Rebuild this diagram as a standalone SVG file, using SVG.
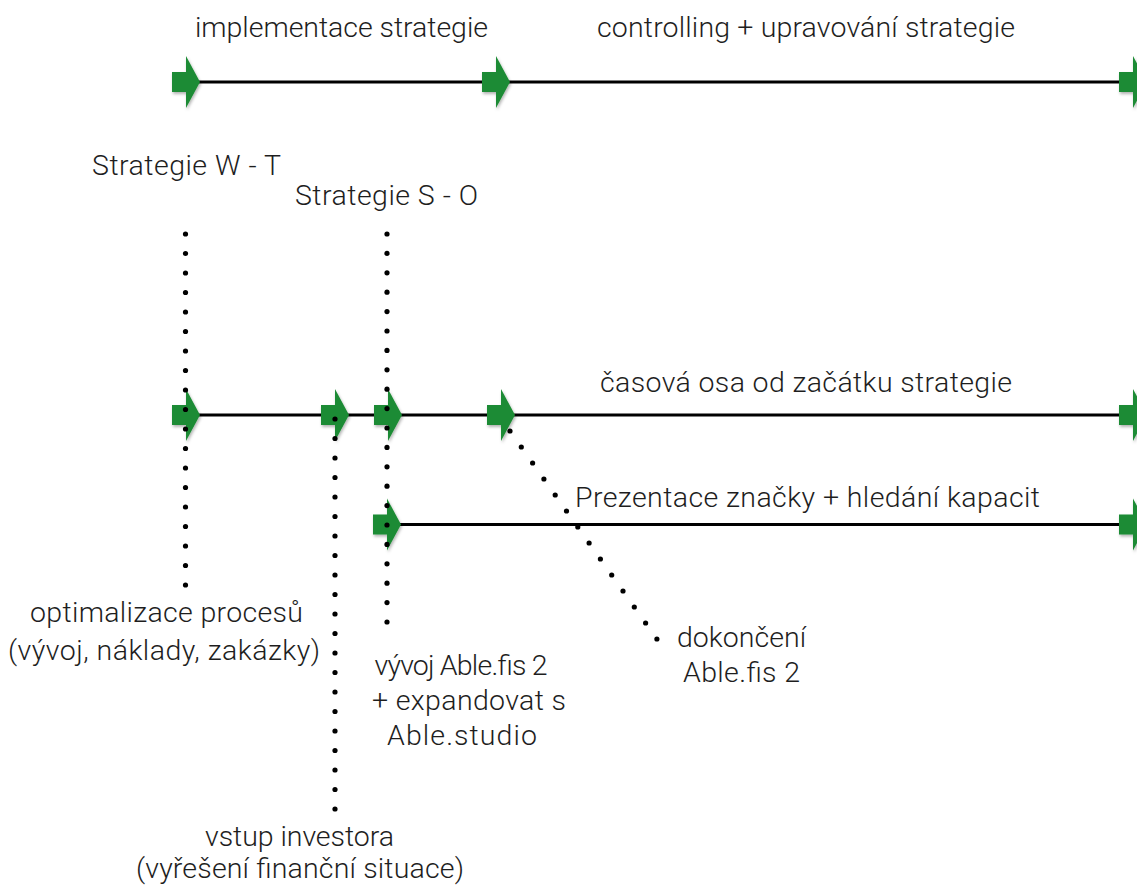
<svg xmlns="http://www.w3.org/2000/svg" width="1137" height="886" viewBox="0 0 1137 886">
<style>
.t{font-family:Roboto,"Liberation Sans",Arial,sans-serif;font-weight:300;font-size:28.5px;fill:#1e1e1e}
.m{text-anchor:middle}
.ln{stroke:#000;stroke-width:3;fill:none}
.ar{fill:#1d8b34;filter:url(#sh)}
.d{fill:#000}
</style>
<defs>
<filter id="sh" x="-30%" y="-30%" width="160%" height="160%">
<feDropShadow dx="1" dy="2" stdDeviation="1.5" flood-color="#000" flood-opacity="0.3"/>
</filter>
<path id="arr" d="M0,-10 H14 V-26 L28,0 L14,26 V10 H0 Z"/>
<circle id="dot" r="2.6"/>
</defs>
<rect width="1137" height="886" fill="#fff"/>
<g id="connectors">
<line class="ln" x1="185" y1="82" x2="1130" y2="82"/>
<line class="ln" x1="185" y1="415" x2="1130" y2="415"/>
<line class="ln" x1="386" y1="524.5" x2="1130" y2="524.5"/>
</g>
<g id="arrows">
<use href="#arr" class="ar" x="172" y="82"/>
<use href="#arr" class="ar" x="482" y="82"/>
<use href="#arr" class="ar" x="1119" y="82"/>
<use href="#arr" class="ar" x="172" y="415"/>
<use href="#arr" class="ar" x="321" y="415"/>
<use href="#arr" class="ar" x="374" y="415"/>
<use href="#arr" class="ar" x="487" y="415"/>
<use href="#arr" class="ar" x="1119" y="415"/>
<use href="#arr" class="ar" x="373" y="524.5"/>
<use href="#arr" class="ar" x="1119" y="524.5"/>
</g>
<g id="dotted-connectors" class="d">
<g id="dots-wt">
<use href="#dot" x="185.5" y="234"/><use href="#dot" x="185.5" y="253.5"/><use href="#dot" x="185.5" y="273"/><use href="#dot" x="185.5" y="292.5"/><use href="#dot" x="185.5" y="312"/><use href="#dot" x="185.5" y="331.5"/><use href="#dot" x="185.5" y="351"/><use href="#dot" x="185.5" y="370.5"/><use href="#dot" x="185.5" y="390"/><use href="#dot" x="185.5" y="409.5"/><use href="#dot" x="185.5" y="429"/><use href="#dot" x="185.5" y="448.5"/><use href="#dot" x="185.5" y="468"/><use href="#dot" x="185.5" y="487.5"/><use href="#dot" x="185.5" y="507"/><use href="#dot" x="185.5" y="526.5"/><use href="#dot" x="185.5" y="546"/><use href="#dot" x="185.5" y="565.5"/><use href="#dot" x="185.5" y="585"/>
</g>
<g id="dots-so">
<use href="#dot" x="387" y="234"/><use href="#dot" x="387" y="253.4"/><use href="#dot" x="387" y="272.8"/><use href="#dot" x="387" y="292.2"/><use href="#dot" x="387" y="311.6"/><use href="#dot" x="387" y="331"/><use href="#dot" x="387" y="350.4"/><use href="#dot" x="387" y="369.8"/><use href="#dot" x="387" y="389.2"/><use href="#dot" x="387" y="408.6"/><use href="#dot" x="387" y="428"/><use href="#dot" x="387" y="447.4"/><use href="#dot" x="387" y="466.8"/><use href="#dot" x="387" y="486.2"/><use href="#dot" x="387" y="505.6"/><use href="#dot" x="387" y="525"/><use href="#dot" x="387" y="544.4"/><use href="#dot" x="387" y="563.8"/><use href="#dot" x="387" y="583.2"/><use href="#dot" x="387" y="602.6"/><use href="#dot" x="387" y="622"/>
</g>
<g id="dots-inv">
<use href="#dot" x="335" y="419"/><use href="#dot" x="335" y="438.5"/><use href="#dot" x="335" y="458"/><use href="#dot" x="335" y="477.5"/><use href="#dot" x="335" y="497"/><use href="#dot" x="335" y="516.5"/><use href="#dot" x="335" y="536"/><use href="#dot" x="335" y="555.5"/><use href="#dot" x="335" y="575"/><use href="#dot" x="335" y="594.5"/><use href="#dot" x="335" y="614"/><use href="#dot" x="335" y="633.5"/><use href="#dot" x="335" y="653"/><use href="#dot" x="335" y="672.5"/><use href="#dot" x="335" y="692"/><use href="#dot" x="335" y="711.5"/><use href="#dot" x="335" y="731"/><use href="#dot" x="335" y="750.5"/><use href="#dot" x="335" y="770"/><use href="#dot" x="335" y="789.5"/><use href="#dot" x="335" y="809"/>
</g>
<g id="dots-diag">
<use href="#dot" x="510" y="431"/><use href="#dot" x="521.3" y="447"/><use href="#dot" x="532.6" y="463"/><use href="#dot" x="543.9" y="479"/><use href="#dot" x="555.2" y="495"/><use href="#dot" x="566.5" y="511"/><use href="#dot" x="577.8" y="527"/><use href="#dot" x="589.1" y="543"/><use href="#dot" x="600.4" y="559"/><use href="#dot" x="611.7" y="575"/><use href="#dot" x="623" y="591"/><use href="#dot" x="634.3" y="607"/><use href="#dot" x="645.6" y="623"/><use href="#dot" x="656.9" y="639"/>
</g>
</g>
<g id="label-implementace"><text class="t" x="195" y="37" textLength="293" lengthAdjust="spacing">implementace strategie</text></g>
<g id="label-controlling"><text class="t" x="597" y="37" textLength="418" lengthAdjust="spacing">controlling + upravování strategie</text></g>
<g id="label-wt"><text class="t" x="92" y="175" textLength="189" lengthAdjust="spacing">Strategie W - T</text></g>
<g id="label-so"><text class="t" x="295" y="205" textLength="183" lengthAdjust="spacing">Strategie S - O</text></g>
<g id="label-osa"><text class="t" x="600" y="392" textLength="412" lengthAdjust="spacing">časová osa od začátku strategie</text></g>
<g id="label-prezentace"><text class="t" x="575" y="507" textLength="465" lengthAdjust="spacing">Prezentace značky + hledání kapacit</text></g>
<g id="label-optimalizace"><text class="t m" x="166.5" y="622" textLength="273" lengthAdjust="spacing">optimalizace procesů</text><text class="t m" x="164" y="660" textLength="312" lengthAdjust="spacing">(vývoj, náklady, zakázky)</text></g>
<g id="label-vyvoj"><text class="t m" x="461" y="675" textLength="173" lengthAdjust="spacing">vývoj Able.fis 2</text><text class="t m" x="469" y="710" textLength="194" lengthAdjust="spacing">+ expandovat s</text><text class="t m" x="462" y="745" textLength="150" lengthAdjust="spacing">Able.studio</text></g>
<g id="label-dokonceni"><text class="t m" x="741.5" y="647" textLength="129" lengthAdjust="spacing">dokončení</text><text class="t m" x="741.5" y="682" textLength="117" lengthAdjust="spacing">Able.fis 2</text></g>
<g id="label-investor"><text class="t m" x="299.5" y="846" textLength="189" lengthAdjust="spacing">vstup investora</text><text class="t m" x="300" y="878" textLength="328" lengthAdjust="spacing">(vyřešení finanční situace)</text></g>
</svg>
